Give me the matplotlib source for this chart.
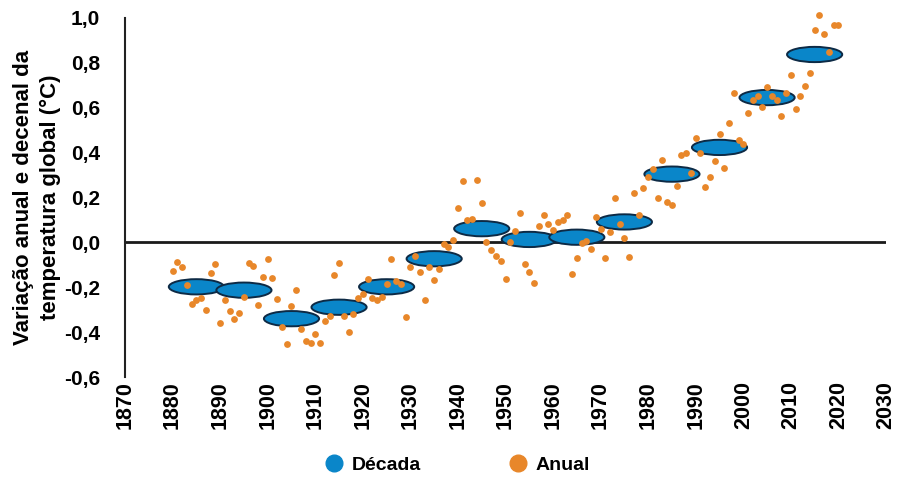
import matplotlib.pyplot as plt
from matplotlib.patches import Ellipse
from matplotlib.lines import Line2D

plt.rcParams['font.family'] = ['Liberation Sans', 'DejaVu Sans']
plt.rcParams['font.weight'] = 'bold'

# Annual anomalies
years = list(range(1880, 2021))
anual = [
    -0.127, -0.089, -0.109, -0.19, -0.275, -0.258, -0.247, -0.30, -0.138, -0.098,
    -0.36, -0.258, -0.307, -0.34, -0.316, -0.243, -0.094, -0.105, -0.277, -0.156,
    -0.073, -0.16, -0.253, -0.379, -0.455, -0.285, -0.211, -0.388, -0.44, -0.45,
    -0.41, -0.45, -0.35, -0.33, -0.145, -0.093, -0.33, -0.40, -0.318, -0.25,
    -0.228, -0.163, -0.247, -0.256, -0.243, -0.187, -0.073, -0.172, -0.184, -0.334,
    -0.108, -0.06, -0.13, -0.256, -0.11, -0.166, -0.118, -0.008, -0.021, 0.012,
    0.154, 0.275, 0.10, 0.105, 0.279, 0.174, 0.0, -0.033, -0.06, -0.081,
    -0.165, 0.001, 0.05, 0.133, -0.098, -0.133, -0.181, 0.075, 0.123, 0.08,
    0.057, 0.089, 0.1, 0.124, -0.142, -0.069, -0.004, 0.008, -0.03, 0.112,
    0.06, -0.069, 0.045, 0.196, 0.08, 0.018, -0.064, 0.219, 0.124, 0.241,
    0.289, 0.328, 0.198, 0.365, 0.181, 0.166, 0.249, 0.387, 0.399, 0.309,
    0.463, 0.397, 0.246, 0.292, 0.361, 0.481, 0.333, 0.53, 0.665, 0.454,
    0.44, 0.578, 0.634, 0.653, 0.604, 0.69, 0.653, 0.634, 0.563, 0.664,
    0.746, 0.592, 0.653, 0.698, 0.756, 0.948, 1.014, 0.929, 0.848, 0.968,
    0.968,
]

# Decadal means
decadas = [1885, 1895, 1905, 1915, 1925, 1935, 1945, 1955, 1965, 1975,
           1985, 1995, 2005, 2015]
media_decada = [-0.198, -0.213, -0.34, -0.289, -0.198, -0.073, 0.061, 0.013,
                0.023, 0.091, 0.304, 0.423, 0.645, 0.837]

x_ticks = list(range(1870, 2031, 10))
y_ticks = [-0.6, -0.4, -0.2, 0.0, 0.2, 0.4, 0.6, 0.8, 1.0]

azul = '#0a86c9'
laranja = '#e8872a'

fig = plt.figure(figsize=(8.97, 4.84), dpi=100)
ax = fig.add_axes([0.1394, 0.221, 0.8483, 0.742])

ax.axhline(0, color='#1a1a1a', lw=2, zorder=1)

for xc, yc in zip(decadas, media_decada):
    ax.add_patch(Ellipse((xc, yc), 11.6, 0.068, facecolor=azul,
                         edgecolor='#0d2a45', lw=1.4, zorder=2))

ax.scatter(years, anual, s=24, color=laranja, zorder=3, linewidths=0,
           clip_on=False)

ax.set_xlim(1870, 2030)
ax.set_ylim(-0.6, 1.0)
ax.set_xticks(x_ticks)
ax.set_xticklabels([str(v) for v in x_ticks], rotation=90, fontsize=15.5,
                   fontweight='bold')
ax.set_yticks(y_ticks)
ax.set_yticklabels([f'{v:.1f}'.replace('.', ',') for v in y_ticks],
                   fontsize=15, fontweight='bold')
ax.tick_params(axis='x', length=0, pad=3)
ax.tick_params(axis='y', length=0, pad=18)

for s in ['top', 'right', 'bottom']:
    ax.spines[s].set_visible(False)
ax.spines['left'].set_color('#222222')
ax.spines['left'].set_linewidth(1.5)

ax.set_ylabel('Variação anual e decenal da\ntemperatura global (°C)',
              fontsize=16, fontweight='bold', labelpad=2, linespacing=1.4)

handles = [
    Line2D([], [], marker='o', ls='', color=azul, markersize=12, label='Década'),
    Line2D([], [], marker='o', ls='', color=laranja, markersize=12, label='Anual'),
]
fig.legend(handles=handles, loc='lower center', bbox_to_anchor=(0.51, -0.015),
           ncol=2, frameon=False, prop={'size': 14, 'weight': 'bold'},
           handlelength=1.0, handletextpad=0.4, columnspacing=4.5)

fig.savefig('out.png', dpi=100)
